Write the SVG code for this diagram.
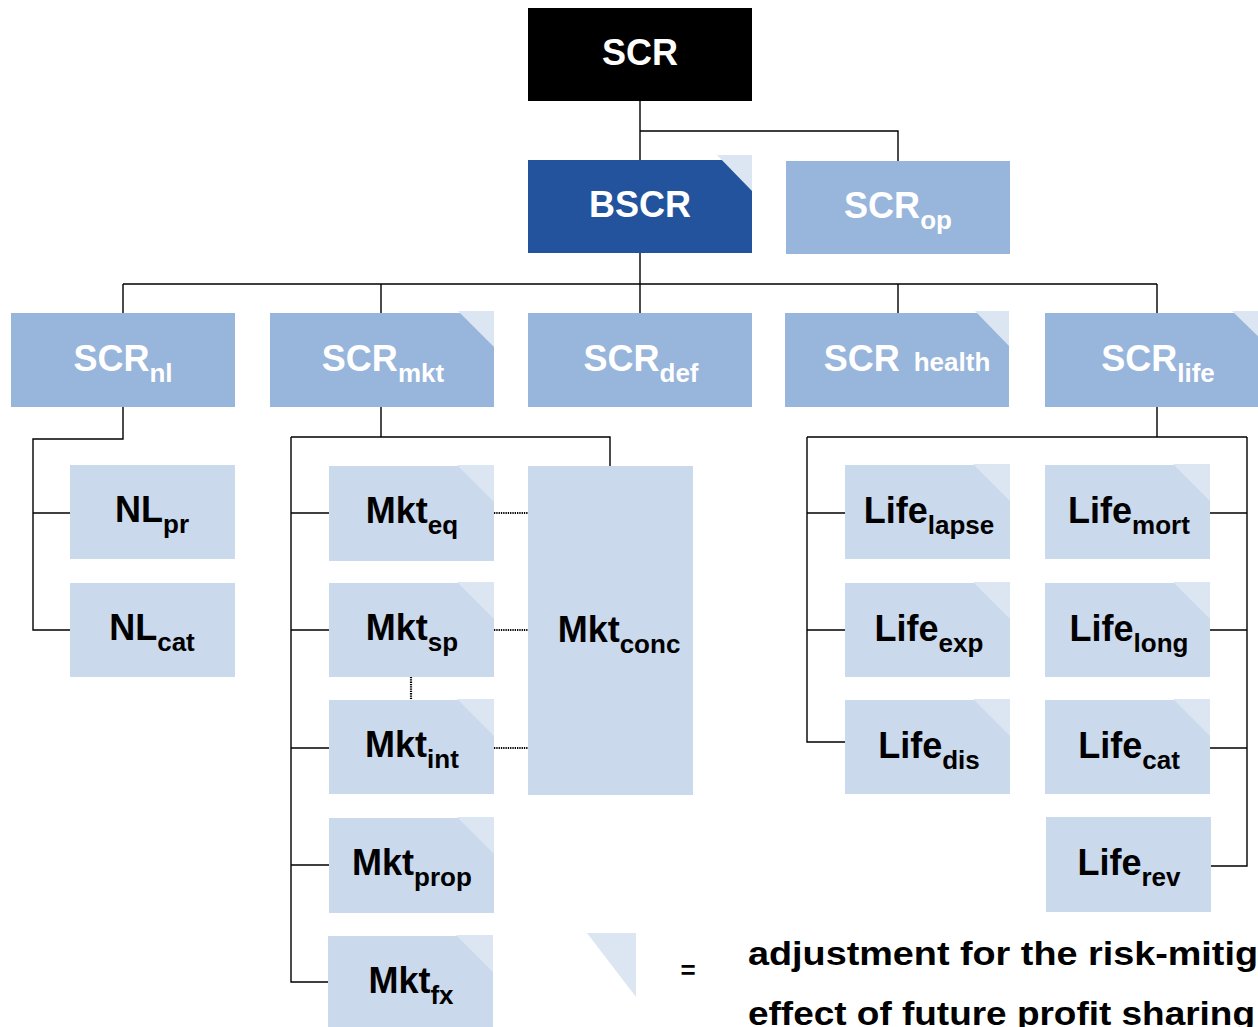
<svg xmlns="http://www.w3.org/2000/svg" width="1258" height="1027" viewBox="0 0 1258 1027">
<style>
  text { font-family: "Liberation Sans", Arial, sans-serif; font-weight: bold; }
  .t { font-size: 36px; text-anchor: middle; }
  .w { fill: #FFFFFF; }
  .k { fill: #000000; }
  .sub { font-size: 26px; }
  .dark { fill: #22539C; }
  .mid { fill: #98B5DB; }
  .light { fill: #CAD9EC; }
  .tri { fill: #DCE6F2; }
  .conn path { fill: none; stroke: #000; stroke-width: 1.4; }
  .conn path.dot { stroke-width: 2.2; stroke-dasharray: 1.3 1; }
  .legend { font-size: 34px; fill: #000; }
</style>

<g id="connectors" class="conn">
  <path d="M640,101 V160 M640,131 H898 V161"/>
  <path d="M640,253 V313 M123,284 H1157 M123,284 V313 M381,284 V313 M898,284 V313 M1157,284 V313"/>
  <path d="M123,407 V439 H33 V630 H70 M33,513 H70"/>
  <path d="M381,407 V437 M291,437 H610 V466 M291,437 V982 H328 M291,513 H329 M291,630 H329 M291,748 H329 M291,865 H329"/>
  <path d="M1157,407 V437 M807,437 H1247 M807,437 V742 H845 M807,513 H845 M807,630 H845 M1247,437 V866 H1211 M1247,513 H1210 M1247,630 H1210 M1247,748 H1210"/>
  <path class="dot" d="M494,513 H528 M494,630 H528 M494,748 H528 M411,677 V700"/>
</g>

<g id="scr">
  <rect x="528" y="8" width="224" height="93" fill="#000"/>
  <text class="t w" x="640" y="65">SCR</text>
</g>
<g id="bscr">
  <rect x="528" y="160" width="224" height="93" class="dark"/>
  <polygon class="tri" points="717,155 752,155 752,191"/>
  <text class="t w" x="640" y="217">BSCR</text>
</g>
<g id="scr_op">
  <rect x="786" y="161" width="224" height="93" class="mid"/>
  <text class="t w" x="898" y="218">SCR<tspan class="sub" dy="11">op</tspan></text>
</g>

<g id="scr_nl">
  <rect x="11" y="313" width="224" height="94" class="mid"/>
  <text class="t w" x="123" y="371">SCR<tspan class="sub" dy="11">nl</tspan></text>
</g>
<g id="scr_mkt">
  <rect x="270" y="313" width="224" height="94" class="mid"/>
  <polygon class="tri" points="458,311 494,311 494,347"/>
  <text class="t w" x="383" y="371">SCR<tspan class="sub" dy="11">mkt</tspan></text>
</g>
<g id="scr_def">
  <rect x="528" y="313" width="224" height="94" class="mid"/>
  <text class="t w" x="641" y="371">SCR<tspan class="sub" dy="11">def</tspan></text>
</g>
<g id="scr_health">
  <rect x="785" y="313" width="224" height="94" class="mid"/>
  <polygon class="tri" points="975,311 1009,311 1009,346"/>
  <text class="t w" x="907" y="371">SCR<tspan class="sub" dx="14">health</tspan></text>
</g>
<g id="scr_life">
  <rect x="1045" y="313" width="224" height="94" class="mid"/>
  <polygon class="tri" points="1232,311 1269,311 1269,347"/>
  <text class="t w" x="1158" y="371">SCR<tspan class="sub" dy="11">life</tspan></text>
</g>

<g id="nl_pr">
  <rect x="70" y="465" width="165" height="94" class="light"/>
  <text class="t k" x="152" y="522">NL<tspan class="sub" dy="11">pr</tspan></text>
</g>
<g id="nl_cat">
  <rect x="70" y="583" width="165" height="94" class="light"/>
  <text class="t k" x="152" y="640">NL<tspan class="sub" dy="11">cat</tspan></text>
</g>

<g id="mkt_eq">
  <rect x="329" y="466" width="165" height="95" class="light"/>
  <polygon class="tri" points="457,465 494,465 494,502"/>
  <text class="t k" x="412" y="523">Mkt<tspan class="sub" dy="11">eq</tspan></text>
</g>
<g id="mkt_sp">
  <rect x="329" y="583" width="165" height="94" class="light"/>
  <polygon class="tri" points="457,582 494,582 494,619"/>
  <text class="t k" x="412" y="640">Mkt<tspan class="sub" dy="11">sp</tspan></text>
</g>
<g id="mkt_int">
  <rect x="329" y="700" width="165" height="94" class="light"/>
  <polygon class="tri" points="457,699 494,699 494,736"/>
  <text class="t k" x="412" y="757">Mkt<tspan class="sub" dy="11">int</tspan></text>
</g>
<g id="mkt_prop">
  <rect x="329" y="818" width="165" height="95" class="light"/>
  <polygon class="tri" points="457,817 494,817 494,854"/>
  <text class="t k" x="412" y="875">Mkt<tspan class="sub" dy="11">prop</tspan></text>
</g>
<g id="mkt_fx">
  <rect x="328" y="936" width="165" height="94" class="light"/>
  <polygon class="tri" points="456,935 493,935 493,972"/>
  <text class="t k" x="411" y="993">Mkt<tspan class="sub" dy="11">fx</tspan></text>
</g>
<g id="mkt_conc">
  <rect x="528" y="466" width="165" height="329" class="light"/>
  <text class="t k" x="619" y="642">Mkt<tspan class="sub" dy="11">conc</tspan></text>
</g>

<g id="life_lapse">
  <rect x="845" y="465" width="165" height="94" class="light"/>
  <polygon class="tri" points="973,464 1010,464 1010,501"/>
  <text class="t k" x="929" y="523">Life<tspan class="sub" dy="11">lapse</tspan></text>
</g>
<g id="life_exp">
  <rect x="845" y="583" width="165" height="94" class="light"/>
  <polygon class="tri" points="973,582 1010,582 1010,619"/>
  <text class="t k" x="929" y="641">Life<tspan class="sub" dy="11">exp</tspan></text>
</g>
<g id="life_dis">
  <rect x="845" y="700" width="165" height="94" class="light"/>
  <polygon class="tri" points="973,699 1010,699 1010,736"/>
  <text class="t k" x="929" y="758">Life<tspan class="sub" dy="11">dis</tspan></text>
</g>
<g id="life_mort">
  <rect x="1045" y="465" width="165" height="94" class="light"/>
  <polygon class="tri" points="1173,464 1210,464 1210,501"/>
  <text class="t k" x="1129" y="523">Life<tspan class="sub" dy="11">mort</tspan></text>
</g>
<g id="life_long">
  <rect x="1045" y="583" width="165" height="94" class="light"/>
  <polygon class="tri" points="1173,582 1210,582 1210,619"/>
  <text class="t k" x="1129" y="641">Life<tspan class="sub" dy="11">long</tspan></text>
</g>
<g id="life_cat">
  <rect x="1045" y="700" width="165" height="94" class="light"/>
  <polygon class="tri" points="1173,699 1210,699 1210,736"/>
  <text class="t k" x="1129" y="758">Life<tspan class="sub" dy="11">cat</tspan></text>
</g>
<g id="life_rev">
  <rect x="1046" y="817" width="165" height="95" class="light"/>
  <text class="t k" x="1129" y="875">Life<tspan class="sub" dy="11">rev</tspan></text>
</g>

<g id="legend">
  <polygon class="tri" points="587,933 636,933 636,997"/>
  <text x="688" y="979" style="font-size:26px;text-anchor:middle">=</text>
  <text class="legend" x="748" y="965" textLength="510" lengthAdjust="spacingAndGlyphs">adjustment for the risk-mitig</text>
  <text class="legend" x="748" y="1025" textLength="507" lengthAdjust="spacingAndGlyphs">effect of future profit sharing</text>
</g>
</svg>
